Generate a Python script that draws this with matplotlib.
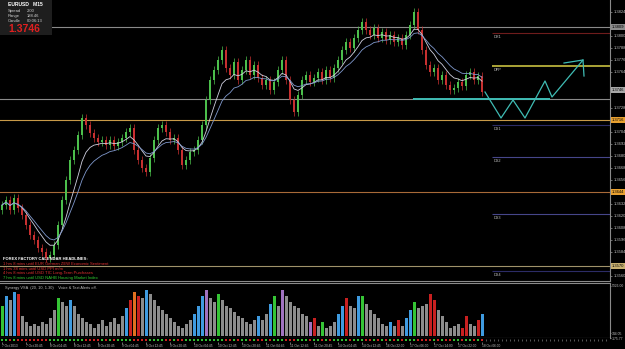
import numpy as np
import pandas as pd
import matplotlib
matplotlib.use('Agg')
import matplotlib.pyplot as plt
import matplotlib.transforms as mtransforms
from matplotlib.patches import Rectangle

plt.rcParams['font.family'] = ['Liberation Sans', 'DejaVu Sans']

# EURUSD M15 - fechamentos
first_open = 1.3626
closes = [1.3631, 1.3636, 1.3626, 1.3638, 1.3628, 1.3621, 1.3611, 1.3601, 1.3596, 1.3588,
          1.3584, 1.3578, 1.3581, 1.3591, 1.3611, 1.3636, 1.3656, 1.3676, 1.3686, 1.3701,
          1.3718, 1.3711, 1.3703, 1.3698, 1.3694, 1.3696, 1.3691, 1.3696, 1.3690, 1.3694,
          1.3698, 1.3704, 1.3708, 1.3686, 1.3676, 1.3668, 1.3664, 1.3678, 1.3696, 1.3708,
          1.3711, 1.3704, 1.3696, 1.3698, 1.3686, 1.3671, 1.3676, 1.3684, 1.3686, 1.3696,
          1.3711, 1.3736, 1.3756, 1.3766, 1.3776, 1.3786, 1.3768, 1.3761, 1.3774, 1.3756,
          1.3766, 1.3776, 1.3761, 1.3771, 1.3758, 1.3751, 1.3756, 1.3746, 1.3754, 1.3766,
          1.3776, 1.3756, 1.3736, 1.3724, 1.3741, 1.3756, 1.3761, 1.3754, 1.3758, 1.3764,
          1.3756, 1.3766, 1.3758, 1.3768, 1.3776, 1.3786, 1.3794, 1.3788, 1.3798, 1.3806,
          1.3814, 1.3806, 1.3801, 1.3808, 1.3798, 1.3804, 1.3796, 1.3801, 1.3794, 1.3798,
          1.3791, 1.3801, 1.3811, 1.3824, 1.3806, 1.3786, 1.3771, 1.3764, 1.3768, 1.3756,
          1.3761, 1.3751, 1.3746, 1.3748, 1.3754, 1.3750, 1.3761, 1.3764, 1.3756, 1.3760,
          1.3744]

# volume (Synergy VSA)
volumes = [3180, 4240, 3820, 4660, 4450, 2120, 1480, 1060, 1270, 1060,
           1480, 1270, 1910, 2760, 4030, 3600, 3180, 3820, 3180, 2330,
           1910, 1480, 1270, 850, 1270, 1700, 1060, 1480, 1910, 1270,
           2120, 2970, 3820, 4660, 4240, 4030, 4880, 4450, 3820, 3180,
           2760, 2330, 1910, 1480, 1060, 850, 1270, 1700, 2330, 3180,
           4240, 4880, 4030, 3600, 4450, 3820, 3180, 2970, 2540, 2120,
           1910, 1480, 1270, 1700, 2120, 1700, 2330, 3390, 4240, 3180,
           4880, 4240, 3600, 3180, 2970, 2330, 2120, 1480, 1910, 1060,
           1480, 850, 1060, 1480, 2330, 3180, 4030, 3180, 2970, 4240,
           4240, 3390, 2760, 2330, 1910, 1270, 1060, 1480, 1060, 1700,
           1060, 1910, 2760, 3600, 2970, 3180, 3390, 4450, 3820, 2760,
           2120, 1480, 850, 1060, 1270, 850, 2120, 1270, 1060, 1700,
           2330]
vol_flags = {0: 'g', 1: 'b', 3: 'b', 4: 'r', 14: 'g', 17: 'b', 31: 'b', 32: 'r', 33: 'o',
             34: 'r', 36: 'b', 48: 'b', 49: 'b', 50: 'b', 51: 'p', 54: 'g', 64: 'b',
             67: 'b', 68: 'g', 70: 'p', 77: 'p', 78: 'r', 80: 'g', 84: 'b', 85: 'b',
             86: 'r', 89: 'b', 90: 'g', 97: 'b', 99: 'r', 101: 'b', 102: 'b', 103: 'g',
             107: 'r', 108: 'r', 115: 'r', 116: 'r', 119: 'r', 120: 'b'}
flag_colors = {'g': '#35c435', 'b': '#3f9be0', 'r': '#c82020', 'p': '#a072c0', 'o': '#e07020'}

# linhas horizontais (largura toda)
level_prices = [1.3809, 1.3737, 1.3716, 1.3644, 1.3570]
level_colors = ['#8a8a8a', '#8a8a8a', '#c89a48', '#a86a38', '#a0926a']

# pivots diarios
pivot_names = ['DR1', 'DPP', 'DS1', 'DS2', 'DS3', 'DS4']
pivot_prices = [1.3803, 1.3770, 1.3711, 1.3679, 1.3622, 1.3565]
pivot_colors = ['#6e1c1c', '#c8c040', '#2c2c66', '#46468a', '#46468a', '#2c2c66']

# projecao desenhada (zigzag + seta)
proj_idx = [120.75, 124.75, 127.75, 130.75, 135.75, 137.5, 145.25]
proj_price = [1.3744, 1.3718, 1.3736, 1.3718, 1.3755, 1.3739, 1.3776]
arrow_idx = [140.5, 145.25, 145.5]
arrow_price = [1.3773, 1.3776, 1.3760]
support_idx = [102.75, 137.0]
support_price = 1.3737

# etiquetas no eixo de precos
tag_prices = [1.3809, 1.3746, 1.3716, 1.3644, 1.3570]
tag_colors = ['#8c8c8c', '#a8a8a8', '#e8a030', '#e8a030', '#c8b070']

time_labels = ['7 Oct 2013', '7 Oct 20:45', '8 Oct 04:45', '8 Oct 12:45', '8 Oct 20:45',
               '9 Oct 04:45', '9 Oct 12:45', '9 Oct 20:45', '10 Oct 04:45', '10 Oct 12:45',
               '10 Oct 20:45', '11 Oct 04:45', '11 Oct 12:45', '11 Oct 20:45', '14 Oct 04:45',
               '14 Oct 12:45', '16 Oct 22:00', '17 Oct 06:00', '17 Oct 14:00', '17 Oct 22:00',
               '18 Oct 06:00']

news_lines = ['FOREX FACTORY CALENDAR HEADLINES:',
              '1 hrs 8 mins until EUR German ZEW Economic Sentiment',
              '1 hrs 38 mins until USD PPI m/m',
              '4 hrs 8 mins until USD TIC Long-Term Purchases',
              '7 hrs 8 mins until USD NAHB Housing Market Index']
news_colors = ['white', '#e03030', '#e03030', '#e03030', '#30d030']

W, H = 625, 349
def fx(px):
    return px / W
def fy(py):
    return 1 - py / H

fig = plt.figure(figsize=(6.25, 3.49), dpi=100, facecolor='black')
ax = fig.add_axes([0, fy(281), fx(610), 281 / H])
axv = fig.add_axes([0, fy(338), fx(610), 55 / H], sharex=ax)
axt = fig.add_axes([0, fy(342), fx(610), 4 / H], sharex=ax)

grey = '#8a8a8a'
for a in (ax, axv, axt):
    a.set_facecolor('black')
    for s in a.spines.values():
        s.set_visible(False)

# Candles
c = np.array(closes)
o = np.r_[first_open, c[:-1]]
x = np.arange(len(c))
up = c >= o
hi = np.maximum(o, c) + 0.0004
lo = np.minimum(o, c) - 0.0004
cols = np.where(up, '#4cbf4c', '#c83030')
ax.vlines(x, lo, hi, colors=cols, lw=0.5, zorder=3)
ax.bar(x, np.maximum(np.abs(c - o), 0.00005), bottom=np.minimum(o, c), width=0.6,
       color=cols, zorder=3)

# medias moveis
ema_fast = pd.Series(c).ewm(span=7).mean()
ema_slow = pd.Series(c).ewm(span=12).mean()
ax.plot(x, ema_fast, color='#d0d0e0', lw=0.6, zorder=4)
ax.plot(x, ema_slow, color='#7f98cc', lw=0.6, zorder=4)

# niveis
for p, col in zip(level_prices, level_colors):
    ax.axhline(p, color=col, lw=0.8, zorder=1)
for name, p, col in zip(pivot_names, pivot_prices, pivot_colors):
    ax.hlines(p, 122.5, 152.5, color=col, lw=1.2 if name == 'DPP' else 0.8, zorder=1)
    ax.text(123, p - 0.0004, name, fontsize=2.8, color='#c0c0c0', va='center')

# suporte e projecao
teal = '#3fbcb4'
ax.hlines(support_price, support_idx[0], support_idx[1], color=teal, lw=1.4, zorder=5)
ax.plot(proj_idx, proj_price, color=teal, lw=0.9, zorder=5)
ax.plot(arrow_idx, arrow_price, color=teal, lw=0.9, zorder=5)

ax.set_xlim(-0.5, 152)
ax.set_ylim(1.3555, 1.3836)
ax.spines['right'].set_visible(True)
ax.spines['bottom'].set_visible(True)
ax.spines['right'].set_color(grey)
ax.spines['bottom'].set_color(grey)
ax.yaxis.tick_right()
# marcas do eixo, sem as que ficam sob as etiquetas coloridas
yticks = [t for t in np.arange(1.3560, 1.3830, 0.0012)
          if min(abs(t - p) for p in tag_prices) > 0.0007]
ax.set_yticks(yticks)
ax.yaxis.set_major_formatter(plt.FormatStrFormatter('%.4f'))
ax.tick_params(axis='y', colors='#c0c0c0', labelsize=3, length=1.5, width=0.4, pad=1)
ax.tick_params(axis='x', bottom=False, labelbottom=False)

tr = mtransforms.blended_transform_factory(ax.transAxes, ax.transData)
for p, col in zip(tag_prices, tag_colors):
    ax.text(1.003, p, f'{p:.4f}', transform=tr, fontsize=3, color='black', va='center',
            ha='left', clip_on=False, zorder=6,
            bbox=dict(boxstyle='square,pad=0.15', fc=col, ec='none'))

# painel de info
fig.add_artist(Rectangle((0, fy(35)), fx(52), 35 / H, transform=fig.transFigure,
                         facecolor='#1e1e1e', edgecolor='none', zorder=5))
fig.text(fx(8), fy(5), 'EURUSD   M15', color='white', fontsize=3.6, weight='bold',
         va='center', zorder=6)
for txt, val, yy in [('Spread', '2.00', 11), ('Range', '188.46', 16), ('Candle', '00:06:13', 21.5)]:
    fig.text(fx(8), fy(yy), txt, color='#d0d0d0', fontsize=3, va='center', zorder=6)
    fig.text(fx(27), fy(yy), val, color='#d0d0d0', fontsize=3, va='center', zorder=6)
fig.text(fx(8), fy(29.5), '1.3746', color='#e02020', fontsize=7.5, weight='bold',
         va='center', zorder=6)

# manchetes do calendario
for i, (txt, col) in enumerate(zip(news_lines, news_colors)):
    fig.text(fx(3), fy(259 + 4.8 * i), txt, color=col, fontsize=3, va='center',
             weight='bold' if i == 0 else 'normal')

# Volume
vcols = [flag_colors[vol_flags[i]] if i in vol_flags else '#8c8c8c' for i in range(len(volumes))]
axv.bar(x, volumes, width=0.75, color=vcols)
axv.set_ylim(-175.77, 5643)
for side in ('top', 'right', 'bottom'):
    axv.spines[side].set_visible(True)
    axv.spines[side].set_color(grey)
axv.yaxis.tick_right()
axv.set_yticks([-175.77, 344.05, 5326.0])
axv.set_yticklabels(['-175.77', '344.05', '5326.00'])
axv.tick_params(axis='y', colors='#c0c0c0', labelsize=2.4, length=1, width=0.4, pad=0.5)
axv.tick_params(axis='x', bottom=False, labelbottom=False)
axv.text(0.008, 0.9, 'Synergy VSA  (20, 10, 1.30)    Voice & Text Alerts off.',
         transform=axv.transAxes, color='#c0c0c0', fontsize=2.8, va='center')

# faixa inferior + eixo do tempo
axt.scatter(x, np.zeros(len(x)), marker='s', s=1.6, c=np.where(up, '#30c030', '#d02020'),
            linewidths=0)
axt.plot(np.arange(121, 152), np.zeros(31), linestyle='none', marker='|', ms=2,
         color='#9a9a9a', mew=0.4)
axt.set_ylim(-1, 1)
axt.set_yticks([])
axt.set_xticks(np.arange(0, 121, 6))
axt.set_xticklabels(time_labels)
axt.tick_params(axis='x', colors='#c0c0c0', labelsize=2.3, length=1.2, width=0.4, pad=0.5)
for lab in axt.get_xticklabels():
    lab.set_horizontalalignment('left')
axt.set_xlim(-0.5, 152)

fig.savefig('out.png', dpi=100, facecolor='black')
